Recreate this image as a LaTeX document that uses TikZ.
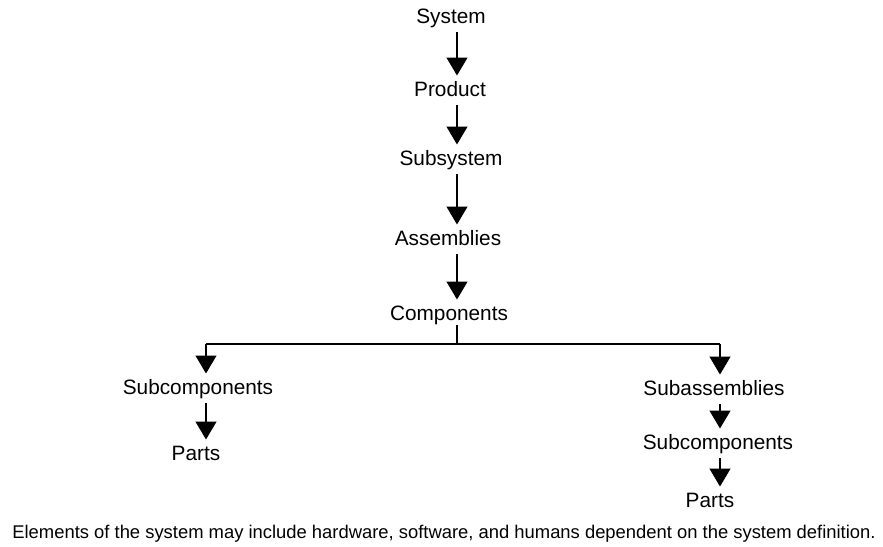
\documentclass[tikz,border=0pt]{standalone}
\usepackage{fontspec}
\setmainfont{Liberation Sans}
\usetikzlibrary{arrows.meta}

\begin{document}
\begin{tikzpicture}[x=0.5pt,y=-0.5pt,inner sep=0pt,
  lbl/.style={font=\fontsize{10.4}{12}\selectfont,text height=7.5pt,text depth=2pt},
  arr/.style={-{Triangle[length=9pt,width=10.5pt]},line width=0.65pt,shorten <=2.2pt,shorten >=2.8pt}]
\useasboundingbox (0,0) rectangle (883,546);

\node[lbl] (sys) at (451,18) {System};
\node[lbl] (prod) at (450,91) {Product};
\node[lbl] (subsys) at (451,160) {Subsystem};
\node[lbl] (assem) at (448,240) {Assemblies};
\node[lbl] (comp) at (449,315) {Components};
\node[lbl] (subcL) at (198,389) {Subcomponents};
\node[lbl] (partsL) at (196,455) {Parts};
\node[lbl] (subaR) at (714,390) {Subassemblies};
\node[lbl] (subcR) at (718,444) {Subcomponents};
\node[lbl] (partsR) at (710,502) {Parts};
\node[font=\fontsize{9.2}{11}\selectfont] (note) at (444,534) {Elements of the system may include hardware, software, and humans dependent on the system definition.};

\coordinate (fork) at (457,344);
\coordinate (forkL) at (206,344);
\coordinate (forkR) at (720,344);

\path (fork |- sys.south) edge [arr] (fork |- prod.north);
\path (fork |- prod.south) edge [arr] (fork |- subsys.north);
\path (fork |- subsys.south) edge [arr] (fork |- assem.north);
\path (fork |- assem.south) edge [arr] (fork |- comp.north);

\draw[line width=0.65pt] (fork |- comp.south) -- (fork);
\draw[line width=0.65pt] (forkL) -- (forkR);
\path (forkL) edge [arr,shorten <=0pt] (forkL |- subcL.north);
\path (forkR) edge [arr,shorten <=0pt] (forkR |- subaR.north);

\path (forkL |- subcL.south) edge [arr] (forkL |- partsL.north);
\path (forkR |- subaR.south) edge [arr] (forkR |- subcR.north);
\path (forkR |- subcR.south) edge [arr] (forkR |- partsR.north);

\end{tikzpicture}
\end{document}
